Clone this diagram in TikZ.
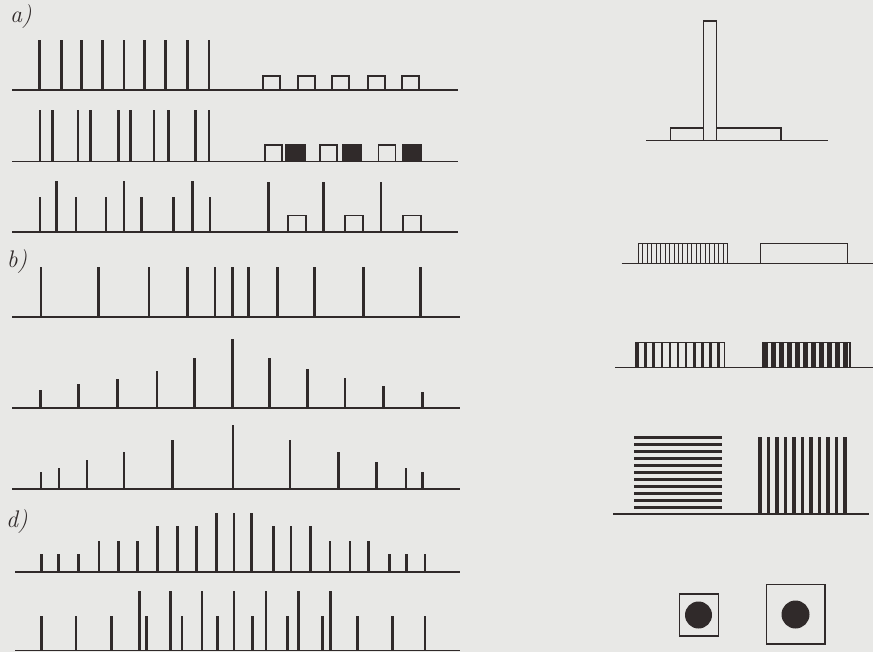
\documentclass[tikz,border=0pt]{standalone}
\usepackage{tikz}
\definecolor{inkcolor}{RGB}{48,42,42}
\definecolor{papercolor}{RGB}{232,232,230}

\begin{document}
\begin{tikzpicture}[x=1pt,y=-1pt,
  groundline/.style={inkcolor,line width=1.9pt},
  pulse/.style={inkcolor,line width=2.9pt},
  pulsebox/.style={inkcolor,line width=1.5pt,fill=papercolor},
  stripe/.style={inkcolor,line width=#1},
  lbl/.style={inkcolor,font=\fontsize{24}{26}\selectfont\itshape}]
  \fill[papercolor] (0,0) rectangle (873,652);
  \useasboundingbox (0,0) rectangle (873,652);
  % labels
  \node[lbl] (labela) at (21,17) {a)};
  \node[lbl] (labelb) at (17,262) {b)};
  \node[lbl] (labeld) at (17,522) {d)};
  % row a1
  \draw[groundline] (12,90) -- (458,90);
  \foreach \x in {39.3,61.3,81.7,102.7,124,144.3,165.7,187.3,209}
    \draw[pulse] (\x,90) -- (\x,40);
  \foreach \x in {263,298,332,368,402}
    \draw[pulsebox] (\x,90) rectangle ++(17,-14);
  % row a2
  \draw[groundline] (12,161.5) -- (458,161.5);
  \foreach \x in {40,52.3,78,90.7,118.3,130.7,154,168.3,195.7,209}
    \draw[pulse] (\x,161.5) -- (\x,110);
  \foreach \x in {265,320,378.3}
    \draw[pulsebox] (\x,161.5) rectangle ++(17,-16.5);
  \foreach \x in {286,342.7,402.7}
    \draw[pulsebox,fill=inkcolor] (\x,161.5) rectangle ++(19,-16.5);
  % row a3
  \draw[groundline] (12,232) -- (458,232);
  \foreach \x/\t in {40/197,56.7/181,76/197,106/197,124/181,141.7/197,173.3/197,192.7/181,210/197,268.3/182,323.3/182,381/182}
    \draw[pulse] (\x,232) -- (\x,\t);
  \foreach \x in {288,345,403}
    \draw[pulsebox] (\x,232) rectangle ++(18,-16.5);
  % row b1
  \draw[groundline] (12,317.3) -- (460,317.3);
  \foreach \x in {41,98.7,149,187.7,215,232.3,248.3,277.7,314.3,363.3,420.7}
    \draw[pulse] (\x,317.3) -- (\x,266.7);
  % row b2
  \draw[groundline] (12,408.3) -- (460,408.3);
  \foreach \x/\t in {40.7/390,78.3/384,117.3/379.3,157/371,194.3/358.3,232.3/339.3,269.3/358.3,307.7/369,345/378,383.3/386,422.3/391.7}
    \draw[pulse] (\x,408.3) -- (\x,\t);
  % row b3
  \draw[groundline] (12,489.3) -- (460,489.3);
  \foreach \x/\t in {41/471.7,59/468.3,87/460,124/451.7,172.7/440,233/425,290/440,338.3/452.3,376.7/462,406/468.3,422.7/471.7}
    \draw[pulse] (\x,489.3) -- (\x,\t);
  % row d1
  \draw[groundline] (15,571.7) -- (460,571.7);
  \foreach \x/\t in {41.7/554,58.3/554,78.3/554,99/541,118.3/541,137.3/541,157.7/525.7,177.7/525.7,196.7/525.7,216.7/513.3,234/513.3,251.7/513.3,273.3/525.7,291/525.7,310.7/525.7,330/541,350/541,368.3/541,389.3/554,406.7/554,425/554}
    \draw[pulse] (\x,571.7) -- (\x,\t);
  % row d2
  \draw[groundline] (15,650.5) -- (460,650.5);
  \foreach \x/\t in {41.7/616,76/616,111.7/616,139.3/591,146.7/616,170.7/591,182/616,202/591,217.3/616,234/591,252.3/616,266/591,287.3/616,298.3/591,322.7/616,330.7/591,357.7/616,392.3/616,425/616}
    \draw[pulse] (\x,650.5) -- (\x,\t);
  % right: tall and low block
  \draw[groundline,line width=1.5pt] (646,140.7) -- (827.7,140.7);
  \draw[pulsebox] (670.7,140.7) rectangle (781,128);
  \draw[pulsebox] (703.3,140.7) rectangle (716.7,21);
  % right: thin stripes and open block
  \draw[groundline,line width=1.5pt] (621.7,263.3) -- (873,263.3);
  \draw[pulsebox] (638.3,263.3) rectangle (727.5,243.3);
  \foreach \i in {1,...,19}
    \draw[stripe=0.9pt] (638.3+\i*4.46,263.3) -- (638.3+\i*4.46,243.3);
  \draw[pulsebox] (760.7,263.3) rectangle (847.3,243.3);
  % right: thick stripes
  \draw[groundline,line width=1.5pt] (615,367.3) -- (873,367.3);
  \draw[pulsebox] (636,367.3) rectangle (724.5,342.5);
  \foreach \i in {0,...,10}
    \draw[stripe=2.6pt] (637.5+\i*8.1,367.3) -- (637.5+\i*8.1,342.5);
  \draw[pulsebox] (762.3,367.3) rectangle (850,342.5);
  \foreach \i in {0,...,10}
    \draw[stripe=5pt] (765.3+\i*8,367.3) -- (765.3+\i*8,342.5);
  % right: horizontal and vertical bands
  \draw[groundline,line width=1.5pt] (613,514) -- (869.3,514);
  \foreach \i in {0,...,10}
    \draw[stripe=2.5pt] (634.3,437.3+\i*7) -- (721.7,437.3+\i*7);
  \foreach \i in {0,...,10}
    \draw[stripe=3.6pt] (760.1+\i*8.5,514) -- (760.1+\i*8.5,436.7);
  % right: dots in frames
  \draw[pulsebox] (679.3,594) rectangle (718.3,636);
  \fill[inkcolor] (698.5,615) circle (13.5);
  \draw[pulsebox] (766.7,584.7) rectangle (825,644);
  \fill[inkcolor] (795.5,614.5) circle (14);
\end{tikzpicture}
\end{document}
